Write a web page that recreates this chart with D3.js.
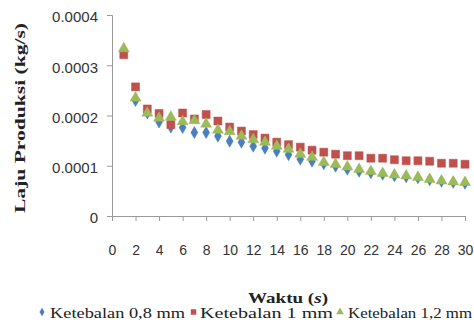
<!DOCTYPE html>
<html><head><meta charset="utf-8">
<script src="https://cdn.jsdelivr.net/npm/d3@7"></script>
<style>body{margin:0;background:#fff}svg{display:block}</style>
</head><body>
<svg id="c" width="474" height="325"></svg>
<script>
const waktu = [1,2,3,4,5,6,7,8,9,10,11,12,13,14,15,16,17,18,19,20,21,22,23,24,25,26,27,28,29,30];
const tebal08 = [0.000330,0.000230,0.000205,0.000187,0.000177,0.000176,0.000166,0.000166,0.000159,0.000149,0.000147,0.000139,0.000135,0.000129,0.000122,0.000113,0.000109,0.000104,0.000099,0.000093,0.000089,0.000086,0.000083,0.000080,0.000078,0.000076,0.000072,0.000069,0.000067,0.000065];
const tebal1 = [0.000321,0.000257,0.000213,0.000204,0.000182,0.000205,0.000193,0.000202,0.000189,0.000177,0.000169,0.000162,0.000155,0.000147,0.000142,0.000137,0.000131,0.000127,0.000123,0.000120,0.000120,0.000115,0.000115,0.000112,0.000110,0.000110,0.000109,0.000105,0.000105,0.000103];
const tebal12 = [0.000335,0.000237,0.000207,0.000197,0.000199,0.000190,0.000192,0.000185,0.000173,0.000170,0.000161,0.000154,0.000149,0.000141,0.000135,0.000125,0.000119,0.000109,0.000105,0.000100,0.000095,0.000091,0.000087,0.000084,0.000082,0.000079,0.000075,0.000072,0.000070,0.000069];
const xTicks = [0,2,4,6,8,10,12,14,16,18,20,22,24,26,28,30];
const yTicks = [0,0.0001,0.0002,0.0003,0.0004];
const yTickLabels = ["0","0.0001","0.0002","0.0003","0.0004"];
const seriesNames = ["Ketebalan 0,8 mm","Ketebalan 1 mm","Ketebalan 1,2 mm"];
const colors = ["#4a7ebf","#c0504d","#9bbb59"];

const svg = d3.select("#c");
const x = d3.scaleLinear().domain([0,30]).range([112,465]);
const y = d3.scaleLinear().domain([0,0.0004]).range([216,15]);
const axisColor = "#9a9a9a";

// y axis
const ya = svg.append("g").attr("transform","translate(112,0)")
  .call(d3.axisLeft(y).tickValues(yTicks).tickSize(5).tickPadding(9)
    .tickFormat((d,i)=>yTickLabels[i]));
ya.select(".domain").attr("stroke",axisColor);
ya.selectAll(".tick line").attr("stroke",axisColor);
ya.selectAll(".tick text").attr("font-family","'Liberation Sans', Arial, sans-serif")
  .attr("font-size",15).attr("fill","#333").attr("dy","0.45em");

// x axis
const xa = svg.append("g").attr("transform","translate(0,216)")
  .call(d3.axisBottom(x).tickValues(xTicks).tickSize(5).tickPadding(24));
xa.select(".domain").attr("stroke",axisColor);
xa.selectAll(".tick line").attr("stroke",axisColor);
xa.selectAll(".tick text").attr("font-family","'Liberation Sans', Arial, sans-serif")
  .attr("font-size",14).attr("fill","#333");

const sym = [d3.symbolDiamond, d3.symbolSquare, d3.symbolTriangle];
const sizes = [42, 64, 52];
const data = [tebal08, tebal1, tebal12];
data.forEach((vals,si)=>{
  svg.append("g").selectAll("path").data(waktu).join("path")
    .attr("d", d3.symbol().type(sym[si]).size(sizes[si]))
    .attr("transform",(t,i)=>`translate(${x(t)},${y(vals[i]) + (si===2?1:0)})`)
    .attr("fill",colors[si]).attr("stroke",colors[si]).attr("stroke-opacity",0.5).attr("stroke-width",1);
});

// y title
svg.append("text").attr("transform","translate(25,118) rotate(-90)")
  .attr("text-anchor","middle").attr("font-family","'Liberation Serif','Times New Roman',serif")
  .attr("font-weight","bold").attr("font-size",15).attr("fill","#222")
  .attr("textLength",190).attr("lengthAdjust","spacingAndGlyphs")
  .text("Laju Produksi (kg/s)");

// x title
const xt = svg.append("text").attr("x",288).attr("y",303).attr("text-anchor","middle")
  .attr("font-family","'Liberation Serif','Times New Roman',serif")
  .attr("font-weight","bold").attr("font-size",15).attr("fill","#222")
  .attr("textLength",80).attr("lengthAdjust","spacingAndGlyphs");
xt.append("tspan").text("Waktu (");
xt.append("tspan").attr("font-style","italic").text("s");
xt.append("tspan").text(")");

// legend
const legX = [42,193.5,340];
const legTx = [50,200,348];
const legW = [135,133,124];
const legSym = d3.symbol();
seriesNames.forEach((n,i)=>{
  svg.append("path").attr("d", d3.symbol().type(sym[i]).size([22,30,26][i]))
    .attr("transform",`translate(${legX[i]},312)`).attr("fill",colors[i]);
  svg.append("text").attr("x",legTx[i]).attr("y",318)
    .attr("font-family","'Liberation Serif','Times New Roman',serif")
    .attr("font-size",15).attr("fill","#222")
    .attr("textLength",legW[i]).attr("lengthAdjust","spacingAndGlyphs")
    .text(n);
});
</script>
</body></html>
